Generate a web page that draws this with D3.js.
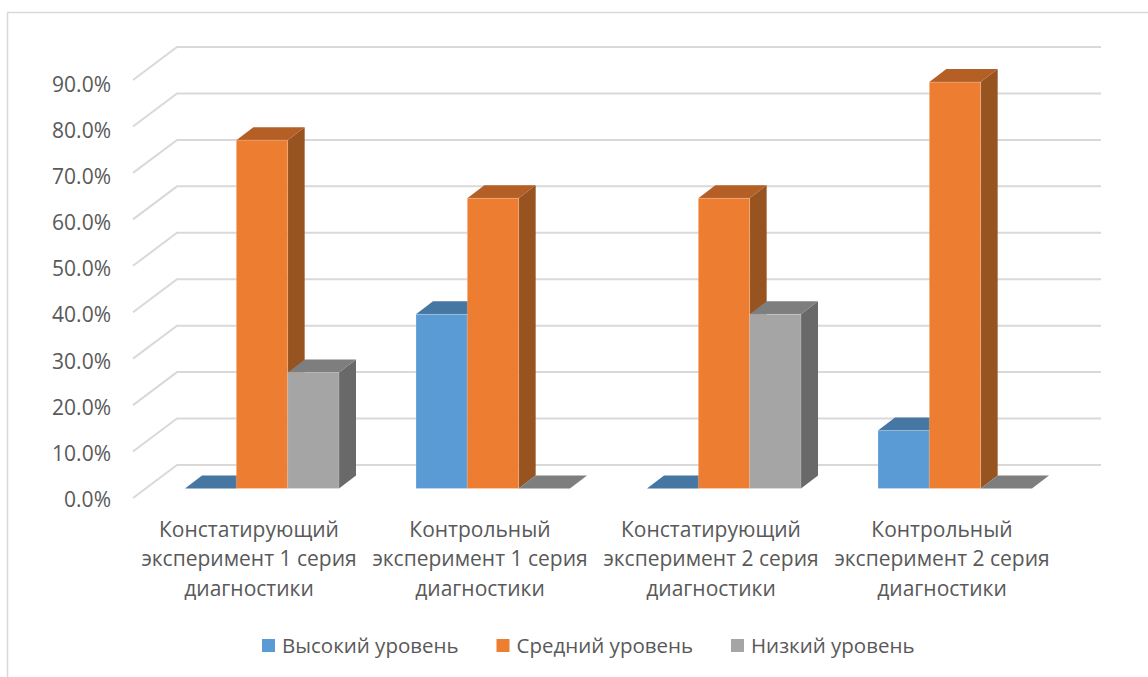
<!DOCTYPE html>
<html>
<head>
<meta charset="utf-8">
<script src="https://cdn.jsdelivr.net/npm/d3@7"></script>
<style>
  html, body { margin: 0; padding: 0; background: #fff; overflow: hidden; }
  text { font-family: "Open Sans", "Noto Sans", sans-serif; fill: #595959; }
</style>
</head>
<body>
<svg id="chart" width="1148" height="677"></svg>
<script>
const categories = [
  ["Констатирующий", "эксперимент 1 серия", "диагностики"],
  ["Контрольный", "эксперимент 1 серия", "диагностики"],
  ["Констатирующий", "эксперимент 2 серия", "диагностики"],
  ["Контрольный", "эксперимент 2 серия", "диагностики"]
];
const seriesNames = ["Высокий уровень", "Средний уровень", "Низкий уровень"];
const highValues = [0, 37.5, 0, 12.5];
const midValues = [75, 62.5, 62.5, 87.5];
const lowValues = [25, 0, 37.5, 0];
const yTicks = [0, 10, 20, 30, 40, 50, 60, 70, 80, 90];

const frontColors = ["#5b9bd5", "#ed7d31", "#a5a5a5"];
const topColors = ["#4676a2", "#b45f25", "#7e7e7e"];
const sideColors = ["#3a6488", "#975320", "#696969"];

const svg = d3.select("#chart");

// chart frame, open on the right and bottom
svg.append("path")
  .attr("d", "M7.5,677V12.5H1148")
  .attr("fill", "none")
  .attr("stroke", "#d9d9d9")
  .attr("stroke-width", 1.5);

const y = d3.scaleLinear().domain([0, 90]).range([465, 47]);
const labelY = d3.scaleLinear().domain([0, 90]).range([499.5, 84]);
const x0 = d3.scaleBand().domain(d3.range(categories.length)).range([146.5, 1070.5]);
const x1 = d3.scaleBand().domain(d3.range(seriesNames.length)).range([0, 154]);
const groupPad = (x0.bandwidth() - x1.range()[1]) / 2;

const wallX0 = 177, wallX1 = 1101;
const wallDx = 44, wallDy = 33;   // depth of the floor
const barDx = 17, barDy = 13;     // depth of one bar
const frontDrop = 23.5;           // front face of the bars below the back wall

// gridlines with their return along the side wall
svg.append("g").selectAll("path")
  .data(yTicks)
  .join("path")
  .attr("d", d => `M${wallX0 - wallDx},${y(d) + wallDy}L${wallX0},${y(d)}H${wallX1}`)
  .attr("fill", "none")
  .attr("stroke", "#d9d9d9")
  .attr("stroke-width", 2);

// y labels
svg.append("g").selectAll("text")
  .data(yTicks)
  .join("text")
  .attr("x", 111)
  .attr("y", d => labelY(d))
  .attr("dy", "0.36em")
  .attr("text-anchor", "end")
  .attr("font-size", 21)
  .text(d => d.toFixed(1) + "%");

// bars, left to right so every bar covers the side of the one before
const allSeries = [highValues, midValues, lowValues];
const bars = [];
categories.forEach((c, i) => {
  allSeries.forEach((vals, s) => bars.push({ i, s, v: vals[i] }));
});

const barG = svg.append("g");
bars.forEach(b => {
  const left = x0(b.i) + groupPad + x1(b.s);
  const right = left + x1.bandwidth();
  const base = y(0) + frontDrop;
  const top = y(b.v) + frontDrop;
  const g = barG.append("g");
  g.append("path")
    .attr("d", `M${right},${top}L${right + barDx},${top - barDy}V${base - barDy}L${right},${base}Z`)
    .attr("fill", sideColors[b.s]);
  g.append("path")
    .attr("d", `M${left},${top}L${left + barDx},${top - barDy}H${right + barDx}L${right},${top}Z`)
    .attr("fill", topColors[b.s]);
  if (b.v > 0) {
    g.append("rect")
      .attr("x", left)
      .attr("y", top)
      .attr("width", right - left)
      .attr("height", base - top)
      .attr("fill", frontColors[b.s])
      .attr("stroke", "#fff")
      .attr("stroke-opacity", 0.2);
  }
});

// category labels
const catG = svg.append("g").selectAll("text")
  .data(categories)
  .join("text")
  .attr("text-anchor", "middle")
  .attr("font-size", 21);
catG.selectAll("tspan")
  .data((d, i) => d.map((line, k) => ({ line, k, i })))
  .join("tspan")
  .attr("x", d => x0(d.i) + x0.bandwidth() / 2 - 13)
  .attr("y", d => 529 + d.k * 29.5)
  .attr("dy", "0.36em")
  .text(d => d.line);

// legend
const legendX = d3.scalePoint().domain(d3.range(3)).range([262, 731]);
const legend = svg.append("g").selectAll("g")
  .data(seriesNames)
  .join("g")
  .attr("transform", (d, i) => `translate(${legendX(i)},639)`);
legend.append("rect")
  .attr("width", 13)
  .attr("height", 13)
  .attr("fill", (d, i) => frontColors[i]);
legend.append("text")
  .attr("x", 20)
  .attr("y", 7)
  .attr("dy", "0.36em")
  .attr("font-size", 20.5)
  .text(d => d);
</script>
</body>
</html>
